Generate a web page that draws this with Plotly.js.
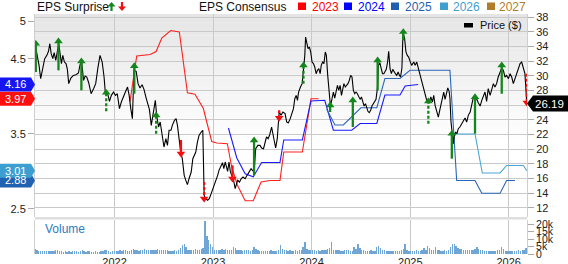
<!DOCTYPE html>
<html><head><meta charset="utf-8">
<script src="https://cdn.plot.ly/plotly-3.0.1.min.js"></script>
<style>html,body{margin:0;padding:0;background:#fff}#chart{width:568px;height:264px}</style>
</head><body><div id="chart"></div>
<script>
// ---------------- DATA ----------------
const priceDates = ['2021-03-12','2021-03-21','2021-03-27','2021-04-02','2021-04-10','2021-04-17','2021-04-25','2021-05-01','2021-05-06','2021-05-11','2021-05-17','2021-05-22','2021-05-28','2021-06-03','2021-06-08','2021-06-13','2021-06-18','2021-06-23','2021-06-29','2021-07-05','2021-07-10','2021-07-15','2021-07-23','2021-08-01','2021-08-11','2021-08-20','2021-08-26','2021-09-01','2021-09-08','2021-09-14','2021-09-20','2021-09-27','2021-10-06','2021-10-15','2021-10-23','2021-10-31','2021-11-08','2021-11-16','2021-11-23','2021-11-28','2021-12-05','2021-12-13','2021-12-20','2021-12-28','2022-01-04','2022-01-11','2022-01-19','2022-01-26','2022-02-03','2022-02-10','2022-02-18','2022-02-24','2022-03-02','2022-03-08','2022-03-14','2022-03-22','2022-03-29','2022-04-05','2022-04-13','2022-04-20','2022-04-28','2022-05-04','2022-05-10','2022-05-17','2022-05-25','2022-06-01','2022-06-06','2022-06-13','2022-06-19','2022-06-25','2022-07-03','2022-07-10','2022-07-16','2022-07-22','2022-07-29','2022-08-03','2022-08-11','2022-08-17','2022-08-22','2022-08-28','2022-09-03','2022-09-09','2022-09-16','2022-09-22','2022-09-28','2022-10-04','2022-10-12','2022-10-18','2022-10-24','2022-10-29','2022-11-04','2022-11-10','2022-11-18','2022-11-24','2022-11-29','2022-12-05','2022-12-12','2022-12-18','2022-12-25','2022-12-31','2023-01-06','2023-01-12','2023-01-18','2023-01-23','2023-01-29','2023-02-05','2023-02-10','2023-02-15','2023-02-19','2023-02-24','2023-03-01','2023-03-06','2023-03-11','2023-03-17','2023-03-24','2023-03-29','2023-04-02','2023-04-09','2023-04-15','2023-04-22','2023-04-30','2023-05-07','2023-05-14','2023-05-22','2023-05-28','2023-06-03','2023-06-08','2023-06-16','2023-06-24','2023-06-30','2023-07-07','2023-07-12','2023-07-18','2023-07-24','2023-07-30','2023-08-06','2023-08-14','2023-08-21','2023-08-27','2023-09-03','2023-09-10','2023-09-17','2023-09-25','2023-10-01','2023-10-07','2023-10-13','2023-10-20','2023-10-26','2023-10-31','2023-11-05','2023-11-10','2023-11-14','2023-11-21','2023-11-27','2023-12-02','2023-12-07','2023-12-10','2023-12-14','2023-12-19','2023-12-24','2023-12-29','2024-01-03','2024-01-08','2024-01-13','2024-01-18','2024-01-23','2024-01-28','2024-02-02','2024-02-06','2024-02-11','2024-02-16','2024-02-21','2024-02-25','2024-03-01','2024-03-06','2024-03-11','2024-03-17','2024-03-22','2024-03-27','2024-04-01','2024-04-06','2024-04-11','2024-04-16','2024-04-21','2024-04-26','2024-04-30','2024-05-05','2024-05-10','2024-05-15','2024-05-20','2024-05-25','2024-05-30','2024-06-04','2024-06-09','2024-06-14','2024-06-19','2024-06-24','2024-06-29','2024-07-04','2024-07-09','2024-07-14','2024-07-19','2024-07-23','2024-07-28','2024-08-02','2024-08-07','2024-08-12','2024-08-17','2024-08-22','2024-08-27','2024-09-01','2024-09-05','2024-09-10','2024-09-15','2024-09-20','2024-09-25','2024-09-29','2024-10-04','2024-10-09','2024-10-13','2024-10-18','2024-10-23','2024-10-28','2024-11-02','2024-11-07','2024-11-12','2024-11-17','2024-11-22','2024-11-26','2024-12-01','2024-12-05','2024-12-11','2024-12-16','2024-12-21','2024-12-26','2024-12-30','2025-01-06','2025-01-14','2025-01-19','2025-01-25','2025-01-31','2025-02-06','2025-02-12','2025-02-19','2025-02-25','2025-03-04','2025-03-12','2025-03-18','2025-03-24','2025-03-29','2025-04-03','2025-04-09','2025-04-15','2025-04-21','2025-04-28','2025-05-05','2025-05-10','2025-05-15','2025-05-20','2025-05-25','2025-05-28','2025-06-01','2025-06-06','2025-06-10','2025-06-13','2025-06-18','2025-06-23','2025-06-28','2025-07-04','2025-07-11','2025-07-17','2025-07-23','2025-07-29','2025-08-04','2025-08-11','2025-08-17','2025-08-23','2025-08-29','2025-09-04','2025-09-10','2025-09-17','2025-09-23','2025-09-29','2025-10-05','2025-10-11','2025-10-17','2025-10-24','2025-10-30','2025-11-05','2025-11-11','2025-11-17','2025-11-23','2025-11-30','2025-12-06','2025-12-12','2025-12-18','2025-12-24','2025-12-31','2026-01-06','2026-01-12','2026-01-18','2026-01-24','2026-01-30','2026-02-06','2026-02-12','2026-02-18','2026-02-24','2026-03-02','2026-03-09'];
const priceVals = [34.36,32.54,31.41,29.59,31.18,32.32,32.77,33.32,34.36,33.0,32.32,33.13,32.09,33.59,34.36,33.0,31.64,32.77,31.86,31.64,30.86,28.91,29.68,30.04,30.13,30.36,31.5,31.86,29.36,29.95,29.82,29.04,27.54,28.23,28.91,31.04,32.77,31.86,29.82,27.54,27.77,26.5,27.32,27.77,27.32,27.54,25.5,26.41,27.23,27.77,28.45,27.32,25.5,24.14,30.73,30.59,28.91,28.32,28.77,28.13,26.95,26.18,25.41,23.23,25.04,26.63,24.59,23.0,23.68,22.32,20.27,21.41,20.5,22.55,22.55,23.23,23.91,24.14,23.23,21.41,19.59,18.68,16.41,15.73,15.14,15.95,16.86,18.68,19.14,19.59,20.95,21.86,22.32,22.55,13.68,13.23,13.0,13.23,13.91,14.5,15.27,15.86,16.41,17.09,17.68,18.14,17.32,18.23,17.68,16.95,18.23,16.95,16.41,15.95,14.59,15.14,15.73,15.5,15.95,16.18,15.95,16.41,16.77,17.32,17.04,17.32,20.04,20.5,20.5,20.14,20.04,20.95,21.64,21.41,21.95,23.0,21.64,20.14,21.41,25.04,24.59,25.04,24.82,23.68,23.59,24.04,24.82,25.5,26.86,27.32,26.63,27.77,28.45,28.91,30.73,32.77,35.27,34.36,33.68,33.91,33.23,31.86,31.64,31.18,30.27,30.73,30.95,30.27,31.41,31.86,31.64,33.23,32.77,30.04,28.23,25.86,26.86,27.77,26.95,27.77,28.68,28.0,28.68,27.32,28.23,28.91,28.45,28.68,28.91,29.36,30.04,29.82,28.0,27.54,27.77,27.54,27.09,26.77,27.09,26.5,25.86,26.18,25.73,25.14,24.95,25.27,25.86,26.18,26.32,26.77,28.23,31.41,31.77,31.18,30.27,30.27,30.5,30.86,31.86,33.32,30.95,30.27,30.86,30.5,30.27,30.04,30.5,30.04,29.82,31.04,35.9,35.04,33.23,32.77,32.54,32.09,31.41,31.86,31.41,31.86,30.95,30.13,29.13,28.23,27.32,26.5,26.32,27.09,26.41,27.32,25.95,25.04,24.36,25.41,26.41,27.77,26.77,27.68,28.32,27.86,26.95,23.68,22.23,20.73,21.77,22.32,22.09,22.77,23.0,23.45,23.68,24.23,23.68,24.59,25.04,26.32,27.09,26.77,26.86,26.32,25.86,26.63,27.32,27.77,26.5,28.23,27.32,28.0,28.91,28.45,28.91,29.82,30.59,31.04,30.73,29.82,30.04,29.59,30.27,29.82,28.91,29.59,30.27,31.18,31.64,31.86,30.95,30.27,26.19];

const eps2023Dates = ['2022-02-27','2022-03-24','2022-05-13','2022-06-04','2022-06-25','2022-07-28','2022-08-29','2022-09-28','2022-10-26','2022-11-26','2022-12-27','2023-01-15','2023-02-23','2023-03-11','2023-04-01','2023-04-30','2023-05-30','2023-06-28','2023-07-31','2023-09-06','2023-09-20','2023-11-28','2023-12-30','2024-01-27'];
const eps2023Vals  = [3.93,4.54,4.56,4.60,4.78,4.88,4.86,4.05,4.03,3.84,3.40,3.38,3.37,3.06,2.82,2.61,2.61,2.86,2.88,2.88,3.26,3.26,3.97,3.97];
const eps2024Dates = ['2023-02-27','2023-03-30','2023-04-30','2023-05-30','2023-06-30','2023-09-06','2023-09-20','2023-11-28','2023-12-30','2024-02-19','2024-03-22','2024-05-29','2024-06-29','2024-08-30','2024-09-29','2024-11-24','2024-12-13','2025-01-30'];
const eps2024Vals  = [3.58,3.18,2.97,2.93,3.12,3.12,3.42,3.42,3.94,3.95,3.55,3.55,3.64,3.64,4.02,4.02,4.14,4.16];
const eps2025Dates = ['2024-02-26','2024-03-28','2024-04-28','2024-07-02','2024-08-30','2024-09-29','2024-11-24','2024-12-31','2025-05-28','2025-06-22','2025-08-29','2025-09-23','2025-11-30','2025-12-24','2026-01-24'];
const eps2025Vals  = [3.83,3.62,3.62,3.85,3.85,4.24,4.24,4.35,4.35,2.88,2.88,2.71,2.71,2.88,2.88];
const eps2026Dates = ['2025-06-13','2025-08-29','2025-09-25','2025-11-30','2025-12-24','2026-02-24','2026-03-09'];
const eps2026Vals  = [3.50,3.50,2.98,2.98,3.08,3.08,3.01];

// EPS surprise arrows: date, price at tail, price at head, kind
const surpriseDates = ['2021-03-15','2021-06-07','2021-08-31','2021-12-01','2022-03-15','2022-06-04','2022-09-04','2022-11-29','2023-03-14','2023-06-02','2023-09-03','2023-12-02','2024-03-10','2024-06-02','2024-09-02','2024-12-06','2025-03-09','2025-06-04','2025-08-29','2025-12-06','2026-03-09'];
const surpriseFrom  = [30.5,30.73,28.0,25.14,27.54,22.09,21.23,15.5,17.78,16.42,25.28,28.91,25.05,23.0,28.01,34.82,23.45,18.68,22.09,27.54,30.27];
const surpriseTo    = [34.36,34.69,31.96,27.68,31.32,24.6,19.36,13.23,15.95,21.19,24.23,31.42,25.96,26.64,32.1,35.96,26.51,22.09,27.09,31.42,26.32];
const surpriseKind  = ['up','up','up','up-dash','up','up-dash','down','down-dash','down','up','down-dash','up-dash','up','up','up','up','up-dash','up','up','up','down-dash'];

const volumeStart = '2021-03-12';   // first weekly bar
const volumeK = [
 3.2,3.0,2.2,2.0,1.8,1.7,1.9,2.0,2.1,1.8,1.9,3.0,2.4,
 2.0,1.7,1.6,1.8,1.5,1.9,1.6,1.7,2.2,1.8,1.6,1.9,2.6,
 1.8,1.6,1.7,1.9,1.5,1.6,1.8,1.4,1.6,1.7,1.9,2.8,2.5,
 1.8,1.6,1.9,2.2,1.7,2.0,2.4,2.1,2.6,2.9,2.3,2.0,2.4,
 3.1,2.6,2.4,2.2,2.8,2.5,3.3,2.7,2.4,2.9,2.6,3.0,2.5,
 3.2,2.8,2.6,2.4,3.0,2.5,2.3,2.2,2.0,2.4,2.2,2.6,4.0,
 6.0,6.5,4.8,3.0,2.6,2.4,2.8,3.3,2.7,3.0,3.6,3.8,22.5,
 12.0,9.5,6.8,4.5,2.8,3.0,2.6,2.4,3.1,2.8,3.2,2.9,2.6,
 2.8,5.0,4.2,2.9,2.6,2.5,2.3,2.4,2.8,2.6,2.2,2.4,5.0,
 3.6,2.4,2.2,2.0,2.3,2.1,1.9,2.2,2.6,2.0,1.8,2.2,2.4,
 6.0,3.4,2.6,2.4,2.2,2.5,2.3,2.0,2.4,2.2,2.6,3.0,4.5,
 8.0,3.2,2.6,2.4,2.7,2.5,2.3,2.6,2.2,2.5,2.9,2.4,3.3,
 4.0,8.4,2.9,2.5,2.6,2.4,2.2,2.3,2.5,2.6,2.4,2.2,2.3,
 5.0,3.4,7.0,4.2,2.8,2.4,2.3,2.2,2.0,2.4,2.1,2.3,4.8,
 5.2,3.8,2.6,2.4,2.1,2.0,2.2,1.9,2.0,2.2,2.1,2.3,2.6,
 3.5,7.0,3.0,1.8,2.0,2.2,2.1,2.6,2.3,2.0,2.4,4.0,3.0,
 5.5,4.2,2.8,2.4,4.5,3.0,2.6,2.2,2.0,2.4,2.1,2.5,5.0,
 7.0,6.5,5.2,4.0,3.6,3.2,2.8,3.0,2.6,2.4,2.7,2.5,3.2,
 5.0,3.6,2.8,2.4,2.2,2.0,2.2,1.9,2.1,2.3,2.0,2.6,3.0,
 5.0,3.5,2.0,2.2,1.9,2.1,2.0,2.3,2.2,2.4,2.1,2.5,2.6,4.0];

const yearTicks  = ['2022-01-01','2023-01-01','2024-01-01','2025-01-01','2026-01-01'];
const yearLabels = ['2022','2023','2024','2025','2026'];
const epsTicks   = [2.5,3.5,4.5,5];
const epsLabels  = ['2.5','3.5','4.5','5'];
const priceTicks = [12,14,16,18,20,22,24,26,28,30,32,34,36,38];
const priceLabels= ['12','14','16','18','20','22','24','','28','30','32','34','36','38'];
const volTicks   = [0,5,10,15,20];
const volLabels  = ['0','5k','10k','15k','20k'];
const legendYears = ['2023','2024','2025','2026','2027'];
const badgeLabels = ['3.97','4.16','2.88','3.01'];
const badgeVals   = [3.97,4.16,2.88,3.01];
const lastPrice = 26.19;

// ---------------- STYLE / GEOMETRY ----------------
const W=568,H=264,L=35,R=41,T=14,B=10;
const PW=W-L-R, PH=H-T-B;
const MAIN_BOT=217, VOL_TOP=219.5;
const mainDom=[(H-B-MAIN_BOT)/PH,1], volDom=[0,(H-B-VOL_TOP)/PH];
const epsRange=[2.393,5.1], priceRange=[10.73,38.41], volRange=[0,23.3];
const px=x=>(x-L)/PW, py=y=>(H-B-y)/PH;
const epsPx=v=>T+(epsRange[1]-v)/(epsRange[1]-epsRange[0])*(MAIN_BOT-T);
const pricePx=v=>T+(priceRange[1]-v)/(priceRange[1]-priceRange[0])*(MAIN_BOT-T);
const yearColors=['#ff0000','#0000ff','#1f5fb0','#3fa0d0','#b07d2b'];
const lineColors={2023:'#ff2020',2024:'#1a1aff',2025:'#2a66b8',2026:'#4aa5d6'};
const badgeColors=['#ff1010','#1515f0','#2162b0','#3d9fd1'];
const GREEN='#15861b', RED='#f01010';
const FONT='"Liberation Sans", Arial, sans-serif';

const traces=[];
function epsTrace(d,v,c){return {x:d,y:v,yaxis:'y',type:'scatter',mode:'lines',line:{color:c,width:1.1},hoverinfo:'skip'};}
traces.push(epsTrace(eps2023Dates,eps2023Vals,lineColors[2023]));
traces.push(epsTrace(eps2024Dates,eps2024Vals,lineColors[2024]));
traces.push(epsTrace(eps2025Dates,eps2025Vals,lineColors[2025]));
traces.push(epsTrace(eps2026Dates,eps2026Vals,lineColors[2026]));
traces.push({x:priceDates,y:priceVals,yaxis:'y2',type:'scatter',mode:'lines',line:{color:'#000',width:1.1}});

const kinds={'up':[GREEN,'solid','triangle-up'],'up-dash':[GREEN,'3px,2px','triangle-up'],'down':[RED,'solid','triangle-down'],'down-dash':[RED,'3px,2px','triangle-down']};
Object.keys(kinds).forEach(k=>{
  const xs=[],ys=[],hx=[],hy=[];
  surpriseDates.forEach((d,i)=>{ if(surpriseKind[i]!==k)return; xs.push(d,d,null); ys.push(surpriseFrom[i],surpriseTo[i],null); hx.push(d); hy.push(surpriseTo[i]); });
  if(!hx.length)return;
  traces.push({x:xs,y:ys,yaxis:'y2',type:'scatter',mode:'lines',line:{color:kinds[k][0],width:2.3,dash:kinds[k][1]}});
  traces.push({x:hx,y:hy,yaxis:'y2',type:'scatter',mode:'markers',marker:{symbol:kinds[k][2],size:7.5,color:kinds[k][0],line:{width:0}}});
});
const volStartMs=Date.parse(volumeStart+'T00:00:00Z');
const volDates=volumeK.map((v,i)=>new Date(volStartMs+i*7*864e5).toISOString().slice(0,10));
traces.push({x:volDates,y:volumeK,yaxis:'y3',type:'bar',width:5*864e5,marker:{color:'#6fa6d6',line:{width:0}}});

const shapes=[];
// background gradient of the price panel
const NB=30;
for(let i=0;i<NB;i++){
  const y0=T+i*4.3, y1=y0+4.4, g=Math.round(229+26*i/(NB-1));
  shapes.push({type:'rect',layer:'below',xref:'paper',yref:'paper',x0:0,x1:1,y0:py(y1),y1:py(y0),fillcolor:`rgb(${g},${g},${g})`,line:{width:0}});
}
shapes.push({type:'rect',layer:'above',xref:'paper',yref:'paper',x0:0,x1:1,y0:volDom[1],y1:mainDom[0],fillcolor:'#dedede',line:{width:0}});
// legend squares
const sqX=[298,344,391,440,487], txX=[311,357,404,452,498];
sqX.forEach((x,i)=>shapes.push({type:'rect',xref:'paper',yref:'paper',x0:px(x),x1:px(x+8),y0:py(10),y1:py(2.5),fillcolor:yearColors[i],line:{width:0}}));
// price legend swatch
shapes.push({type:'rect',xref:'paper',yref:'paper',x0:px(464),x1:px(473),y0:py(27.5),y1:py(23),fillcolor:'#000',line:{width:0}});
// EPS surprise icons
const pth=pts=>'M'+pts.map(p=>px(p[0])+','+py(p[1])).join(' L')+' Z';
shapes.push({type:'path',xref:'paper',yref:'paper',path:pth([[111.5,2],[115.5,6.5],[112.6,6.5],[112.6,11],[110.4,11],[110.4,6.5],[107.5,6.5]]),fillcolor:GREEN,line:{width:0}});
shapes.push({type:'path',xref:'paper',yref:'paper',path:pth([[122,11],[126,6.5],[123.1,6.5],[123.1,2],[120.9,2],[120.9,6.5],[118,6.5]]),fillcolor:RED,line:{width:0}});
// badges
const annotations=[];
badgeVals.forEach((v,i)=>{
  const c=epsPx(v);
  shapes.push({type:'path',xref:'paper',yref:'paper',path:pth([[0,c-7],[31,c-7],[35,c],[31,c+7],[0,c+7]]),fillcolor:badgeColors[i],line:{width:0}});
  annotations.push({xref:'paper',yref:'paper',x:px(15),y:py(c),text:badgeLabels[i],showarrow:false,xanchor:'center',yanchor:'middle',font:{family:FONT,size:11,color:'#fff'}});
});
{
  const c=pricePx(lastPrice);
  shapes.push({type:'path',xref:'paper',yref:'paper',path:pth([[527,c],[533,c-8],[568,c-8],[568,c+8],[533,c+8]]),fillcolor:'#000',line:{width:0}});
  annotations.push({xref:'paper',yref:'paper',x:px(549),y:py(c),text:lastPrice.toFixed(2),showarrow:false,xanchor:'center',yanchor:'middle',font:{family:FONT,size:11.5,color:'#fff'}});
}
annotations.push({xref:'paper',yref:'paper',x:px(35),y:py(6.5),text:'EPS Surprise',showarrow:false,xanchor:'left',yanchor:'middle',font:{family:FONT,size:12,color:'#111'}});
annotations.push({xref:'paper',yref:'paper',x:px(197),y:py(6.5),text:'EPS Consensus',showarrow:false,xanchor:'left',yanchor:'middle',font:{family:FONT,size:12,color:'#111'}});
legendYears.forEach((t,i)=>annotations.push({xref:'paper',yref:'paper',x:px(txX[i]-1),y:py(6.5),text:t,showarrow:false,xanchor:'left',yanchor:'middle',font:{family:FONT,size:12,color:yearColors[i]}}));
annotations.push({xref:'paper',yref:'paper',x:px(478),y:py(25),text:'Price ($)',showarrow:false,xanchor:'left',yanchor:'middle',font:{family:FONT,size:11,color:'#111'}});
annotations.push({xref:'paper',yref:'paper',x:px(43),y:py(229),text:'Volume',showarrow:false,xanchor:'left',yanchor:'middle',font:{family:FONT,size:12,color:'#2b7cc1'}});

const layout={
  width:W,height:H,margin:{l:L,r:R,t:T,b:B,pad:0},
  paper_bgcolor:'#fff',plot_bgcolor:'#fff',showlegend:false,hovermode:false,
  font:{family:FONT,size:11,color:'#222'},
  xaxis:{type:'date',range:['2021-03-12','2026-03-09 16:00'],anchor:'y3',tickvals:yearTicks,ticktext:yearLabels,
    showgrid:true,gridcolor:'#c9c9c9',gridwidth:1,ticks:'',zeroline:false,showline:false,tickfont:{size:11,color:'#222'}},
  yaxis:{domain:mainDom,range:epsRange,anchor:'x',side:'left',tickvals:epsTicks,ticktext:epsLabels,showgrid:false,zeroline:false,
    ticks:'outside',ticklen:6,tickcolor:'#aaa',showline:true,linecolor:'#cfcfcf',tickfont:{size:11,color:'#222'}},
  yaxis2:{overlaying:'y',side:'right',anchor:'x',range:priceRange,tickvals:priceTicks,ticktext:priceLabels,showgrid:true,gridcolor:'#c9c9c9',
    zeroline:false,ticks:'outside',ticklen:6,tickcolor:'#aaa',showline:true,linecolor:'#cfcfcf',tickfont:{size:11,color:'#222'}},
  yaxis3:{domain:volDom,range:volRange,anchor:'x',side:'right',tickvals:volTicks,ticktext:volLabels,showgrid:false,zeroline:false,
    ticks:'outside',ticklen:6,tickcolor:'#aaa',showline:true,mirror:true,linecolor:'#cfcfcf',tickfont:{size:10.5,color:'#222'}},
  bargap:0,shapes:shapes,annotations:annotations
};
Plotly.newPlot('chart',traces,layout,{staticPlot:true,displayModeBar:false});
</script></body></html>
